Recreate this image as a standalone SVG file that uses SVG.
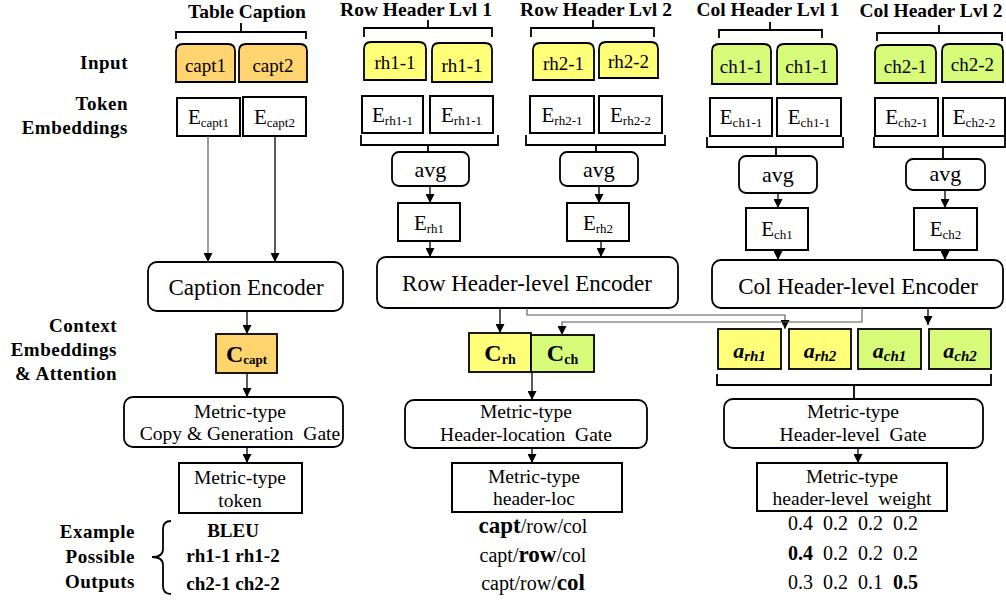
<svg xmlns="http://www.w3.org/2000/svg" width="1006" height="603" viewBox="0 0 1006 603">
<defs>
<marker id="arr" viewBox="0 0 10 10" refX="10" refY="5" markerWidth="9" markerHeight="9" markerUnits="userSpaceOnUse" orient="auto">
<path d="M0,0 L10,5 L0,10 z" fill="#000"/>
</marker>
<style>
text{font-family:"Liberation Serif","Times New Roman",serif;fill:#000}
.ttl{font-size:19.5px;font-weight:bold;text-anchor:middle}
.lbl{font-size:19px;font-weight:bold;text-anchor:end;letter-spacing:0.5px}
.tok{font-size:19px;text-anchor:middle}
.emb{font-size:21px;text-anchor:middle}
.enc{font-size:23px;text-anchor:middle}
.gate{font-size:19.5px;text-anchor:middle}
.out{font-size:20px;text-anchor:middle}
.outb{font-size:19px;font-weight:bold;text-anchor:middle}
.box{fill:#fff;stroke:#000;stroke-width:2}
.rbox{fill:#fff;stroke:#000;stroke-width:1.8}
.or{fill:#FFD36E;stroke:#000;stroke-width:1.8}
.ye{fill:#FFFF78;stroke:#000;stroke-width:1.8}
.gr{fill:#D7FA78;stroke:#000;stroke-width:1.8}
.br{fill:none;stroke:#000;stroke-width:1.8}
.ln{fill:none;stroke:#000;stroke-width:1.3}
.thin{fill:none;stroke:#555;stroke-width:1.1}
.av{font-size:22px;text-anchor:middle}
.a{font-size:22px;font-weight:bold;font-style:italic;text-anchor:middle}
</style>
</defs>

<g id="row-labels">
<text class="lbl" x="128" y="69">Input</text>
<text class="lbl" x="128" y="110">Token</text>
<text class="lbl" x="128" y="134">Embeddings</text>
<text class="lbl" x="117" y="332">Context</text>
<text class="lbl" x="117" y="356">Embeddings</text>
<text class="lbl" x="117" y="380">&amp; Attention</text>
<text class="lbl" x="135" y="538">Example</text>
<text class="lbl" x="135" y="563">Possible</text>
<text class="lbl" x="135" y="588">Outputs</text>
<path class="br" d="M171,521 Q163,521 163,529 V549 Q163,557 152,557 Q163,557 163,565 V586 Q163,594 171,594"/>
</g>

<g id="titles">
<text class="ttl" x="247" y="18">Table Caption</text>
<text class="ttl" x="416" y="16">Row Header Lvl 1</text>
<text class="ttl" x="596" y="16">Row Header Lvl 2</text>
<text class="ttl" x="768" y="16">Col Header Lvl 1</text>
<text class="ttl" x="931" y="17">Col Header Lvl 2</text>
<path class="br" d="M176,39 V32 H306 V39 M241,32 V23"/>
<path class="br" d="M364,37 V28 H492 V37 M428,28 V20"/>
<path class="br" d="M531,37 V28 H654 V37 M593,28 V20"/>
<path class="br" d="M719,38 V30 H822 V38 M770,30 V22"/>
<path class="br" d="M877,41 V33 H1002 V41 M939,33 V25"/>
</g>

<g id="inputs">
<path class="or" d="M176,82 V51 Q176,44 183,44 H228 Q235,44 235,51 V82 Z"/>
<text class="tok" x="205.5" y="72">capt1</text>
<path class="or" d="M239,82 V51 Q239,44 246,44 H300 Q307,44 307,51 V82 Z"/>
<text class="tok" x="273" y="72">capt2</text>
<path class="ye" d="M364,80 V49 Q364,42 371,42 H419 Q426,42 426,49 V80 Z"/>
<text class="tok" x="395" y="69">rh1-1</text>
<path class="ye" d="M432,82 V50 Q432,43 439,43 H485 Q492,43 492,50 V82 Z"/>
<text class="tok" x="462" y="72">rh1-1</text>
<path class="ye" d="M533,80 V50 Q533,43 540,43 H587 Q594,43 594,50 V80 Z"/>
<text class="tok" x="563.5" y="70">rh2-1</text>
<path class="ye" d="M599,78 V49 Q599,42 606,42 H651 Q658,42 658,49 V78 Z"/>
<text class="tok" x="628.5" y="68">rh2-2</text>
<path class="gr" d="M712,84 V51 Q712,44 719,44 H764 Q771,44 771,51 V84 Z"/>
<text class="tok" x="741.5" y="73">ch1-1</text>
<path class="gr" d="M777,84 V51 Q777,44 784,44 H830 Q837,44 837,51 V84 Z"/>
<text class="tok" x="807" y="73">ch1-1</text>
<path class="gr" d="M875,83 V52 Q875,45 882,45 H929 Q936,45 936,52 V83 Z"/>
<text class="tok" x="905.5" y="73">ch2-1</text>
<path class="gr" d="M942,82 V51 Q942,44 949,44 H996 Q1003,44 1003,51 V82 Z"/>
<text class="tok" x="972.5" y="71">ch2-2</text>
</g>

<g id="token-embeddings">
<rect class="box" x="177" y="98" width="63" height="38"/>
<text class="emb" x="208.5" y="124">E<tspan font-size="13" dy="3">capt1</tspan></text>
<rect class="box" x="243" y="97" width="63" height="39"/>
<text class="emb" x="274.5" y="124">E<tspan font-size="13" dy="3">capt2</tspan></text>
<rect class="box" x="362" y="96" width="61" height="37"/>
<text class="emb" x="392.5" y="122">E<tspan font-size="13" dy="3">rh1-1</tspan></text>
<rect class="box" x="430" y="96" width="63" height="37"/>
<text class="emb" x="461.5" y="122">E<tspan font-size="13" dy="3">rh1-1</tspan></text>
<rect class="box" x="530" y="96" width="64" height="37"/>
<text class="emb" x="562" y="122">E<tspan font-size="13" dy="3">rh2-1</tspan></text>
<rect class="box" x="599" y="96" width="63" height="37"/>
<text class="emb" x="630.5" y="122">E<tspan font-size="13" dy="3">rh2-2</tspan></text>
<rect class="box" x="710" y="98" width="62" height="38"/>
<text class="emb" x="741" y="124">E<tspan font-size="13" dy="3">ch1-1</tspan></text>
<rect class="box" x="777" y="98" width="64" height="38"/>
<text class="emb" x="809" y="124">E<tspan font-size="13" dy="3">ch1-1</tspan></text>
<rect class="box" x="875" y="98" width="63" height="38"/>
<text class="emb" x="906.5" y="124">E<tspan font-size="13" dy="3">ch2-1</tspan></text>
<rect class="box" x="943" y="98" width="62" height="38"/>
<text class="emb" x="974" y="124">E<tspan font-size="13" dy="3">ch2-2</tspan></text>
<path class="br" d="M361,135 V145 H498 V135"/>
<path class="br" d="M526,135 V145 H665 V135"/>
<path class="br" d="M707,137 V147 H843 V137"/>
<path class="br" d="M874,137 V147 H1005 V137"/>
</g>

<g id="avg-nodes">
<rect class="rbox" x="392" y="152" width="77" height="34" rx="7"/>
<text class="av" x="430.5" y="177">avg</text>
<rect class="rbox" x="560" y="152" width="78" height="34" rx="7"/>
<text class="av" x="599" y="177">avg</text>
<rect class="rbox" x="739" y="156" width="78" height="37" rx="7"/>
<text class="av" x="778" y="182">avg</text>
<rect class="rbox" x="906" y="159" width="79" height="31" rx="7"/>
<text class="av" x="945.5" y="181">avg</text>
</g>

<g id="level-embeddings">
<rect class="box" x="398" y="203" width="62" height="38"/>
<text class="emb" x="429" y="230">E<tspan font-size="13" dy="3">rh1</tspan></text>
<rect class="box" x="567" y="203" width="62" height="38"/>
<text class="emb" x="598" y="230">E<tspan font-size="13" dy="3">rh2</tspan></text>
<rect class="box" x="746" y="208" width="62" height="42"/>
<text class="emb" x="777" y="236">E<tspan font-size="13" dy="3">ch1</tspan></text>
<rect class="box" x="914" y="208" width="63" height="42"/>
<text class="emb" x="945.5" y="236">E<tspan font-size="13" dy="3">ch2</tspan></text>
</g>

<g id="encoders">
<rect class="rbox" x="148" y="262" width="195" height="49" rx="9"/>
<text class="enc" x="246" y="295">Caption Encoder</text>
<rect class="rbox" x="377" y="257" width="301" height="51" rx="9"/>
<text class="enc" x="527" y="291">Row Header-level Encoder</text>
<rect class="rbox" x="712" y="260" width="291" height="48" rx="9"/>
<text class="enc" x="858" y="294">Col Header-level Encoder</text>
</g>

<g id="context-embeddings">
<rect class="or" x="216" y="334" width="61" height="39"/>
<text x="246.5" y="362" font-size="24" font-weight="bold" text-anchor="middle">C<tspan font-size="13" dy="2">capt</tspan></text>
<rect class="ye" x="469" y="333" width="62" height="39"/>
<text x="500" y="361" font-size="24" font-weight="bold" text-anchor="middle">C<tspan font-size="14" dy="3">rh</tspan></text>
<rect class="gr" x="531" y="335" width="63" height="37"/>
<text x="562.5" y="361" font-size="24" font-weight="bold" text-anchor="middle">C<tspan font-size="14" dy="3">ch</tspan></text>
</g>

<g id="attention">
<rect class="ye" x="718" y="329" width="63" height="40"/>
<text class="a" x="749.5" y="358">a<tspan font-size="15" dy="3">rh1</tspan></text>
<rect class="ye" x="789" y="329" width="62" height="40"/>
<text class="a" x="820" y="358">a<tspan font-size="15" dy="3">rh2</tspan></text>
<rect class="gr" x="858" y="329" width="63" height="40"/>
<text class="a" x="889.5" y="358">a<tspan font-size="15" dy="3">ch1</tspan></text>
<rect class="gr" x="929" y="329" width="62" height="40"/>
<text class="a" x="960" y="358">a<tspan font-size="15" dy="3">ch2</tspan></text>
<path class="br" d="M717,374 V385 H991 V374"/>
</g>

<g id="gates">
<rect class="rbox" x="124" y="397" width="219" height="50" rx="9"/>
<text class="gate" x="240" y="418">Metric-type</text>
<text class="gate" x="240" y="440" xml:space="preserve">Copy &amp; Generation  Gate</text>
<rect class="rbox" x="405" y="400" width="242" height="48" rx="9"/>
<text class="gate" x="526" y="418">Metric-type</text>
<text class="gate" x="526" y="441" xml:space="preserve">Header-location  Gate</text>
<rect class="rbox" x="724" y="399" width="259" height="49" rx="9"/>
<text class="gate" x="853" y="418">Metric-type</text>
<text class="gate" x="853" y="441" xml:space="preserve">Header-level  Gate</text>
</g>

<g id="metric-outputs">
<rect class="box" x="179" y="463" width="123" height="50"/>
<text class="gate" x="240" y="484">Metric-type</text>
<text class="gate" x="240" y="507">token</text>
<rect class="box" x="452" y="463" width="170" height="49"/>
<text class="gate" x="534" y="483">Metric-type</text>
<text class="gate" x="534" y="505">header-loc</text>
<rect class="box" x="757" y="463" width="190" height="48"/>
<text class="gate" x="852" y="483">Metric-type</text>
<text class="gate" x="852" y="505" xml:space="preserve">header-level  weight</text>
</g>

<g id="examples">
<text class="outb" x="233" y="537">BLEU</text>
<text class="outb" x="233" y="562">rh1-1 rh1-2</text>
<text class="outb" x="233" y="590">ch2-1 ch2-2</text>
<text class="out" x="533" y="533"><tspan font-weight="bold" font-size="23">capt</tspan>/row/col</text>
<text class="out" x="533" y="562">capt/<tspan font-weight="bold" font-size="23">row</tspan>/col</text>
<text class="out" x="533" y="590">capt/row/<tspan font-weight="bold" font-size="23">col</tspan></text>
<text class="out" x="853" y="530" xml:space="preserve">0.4  0.2  0.2  0.2</text>
<text class="out" x="853" y="560" xml:space="preserve"><tspan font-weight="bold">0.4</tspan>  0.2  0.2  0.2</text>
<text class="out" x="853" y="589" xml:space="preserve">0.3  0.2  0.1  <tspan font-weight="bold">0.5</tspan></text>
</g>

<g id="connectors">
<path class="ln" d="M208,136 V262" marker-end="url(#arr)" style="stroke:#666"/>
<path class="ln" d="M275,136 V262" marker-end="url(#arr)"/>
<path class="br" d="M428,145 V152"/>
<path class="br" d="M596,145 V152"/>
<path class="br" d="M776,147 V156"/>
<path class="br" d="M943,147 V159"/>
<path class="ln" d="M430,186 V203" marker-end="url(#arr)"/>
<path class="ln" d="M599,186 V203" marker-end="url(#arr)"/>
<path class="ln" d="M778,193 V208" marker-end="url(#arr)"/>
<path class="ln" d="M945,190 V208" marker-end="url(#arr)"/>
<path class="ln" d="M430,241 V257" marker-end="url(#arr)"/>
<path class="ln" d="M601,241 V257" marker-end="url(#arr)"/>
<path class="ln" d="M778,250 V260" marker-end="url(#arr)"/>
<path class="ln" d="M945,250 V260" marker-end="url(#arr)"/>
<path class="ln" d="M247,311 V334" marker-end="url(#arr)"/>
<path class="ln" d="M500,308 V333" marker-end="url(#arr)"/>
<path class="thin" d="M527,308 V315 H785 V329" marker-end="url(#arr)"/>
<path class="thin" d="M862,308 V322 H562 V335" marker-end="url(#arr)"/>
<path class="ln" d="M928,308 V325" marker-end="url(#arr)"/>
<path class="ln" d="M247,373 V397" marker-end="url(#arr)"/>
<path class="ln" d="M532,372 V400" marker-end="url(#arr)"/>
<path class="br" d="M854,385 V399"/>
<path class="ln" d="M247,447 V463" marker-end="url(#arr)"/>
<path class="ln" d="M532,448 V463" marker-end="url(#arr)"/>
<path class="ln" d="M858,448 V463" marker-end="url(#arr)"/>
</g>
</svg>
